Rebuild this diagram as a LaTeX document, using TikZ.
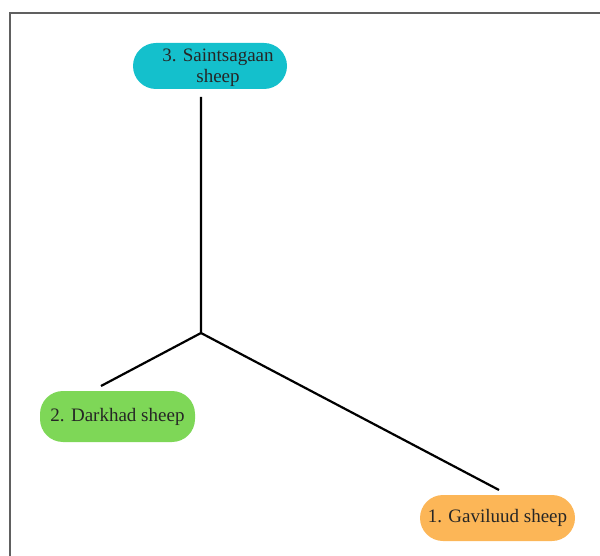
\documentclass[tikz,border=0pt]{standalone}
\usepackage{fontspec}
\setmainfont{Liberation Serif}
\definecolor{teal3}{HTML}{14C0CC}
\definecolor{green2}{HTML}{7ED757}
\definecolor{orange1}{HTML}{FCB657}
\definecolor{framegray}{HTML}{606060}
\begin{document}
\begin{tikzpicture}[x=1pt,y=-1pt,
  pill/.style={draw=none,rounded corners=23pt,minimum height=48pt,inner sep=0pt,align=center,font=\fontsize{19}{21}\selectfont,text=black!85},
  link/.style={line width=2.2pt,black}]
\useasboundingbox (0,0) rectangle (600,556);
\draw[framegray,line width=1.2pt] (10,556) -- (10,13) -- (600,13);
\node[pill,fill=teal3,minimum width=154pt,minimum height=46pt] (n3) at (210,66) {};
\node[align=center,inner sep=0pt,font=\fontsize{19}{21}\selectfont,text=black!85] (n3t) at (218,68) {3. Saintsagaan\\sheep};
\node[pill,fill=green2,minimum width=155pt,minimum height=51pt] (n2) at (117.5,416.5) {2. Darkhad sheep};
\node[pill,fill=orange1,minimum width=155pt,minimum height=46pt] (n1) at (497.5,518) {1. Gaviluud sheep};
\coordinate (j) at (201,333);
\coordinate (t3) at (201,97);
\coordinate (t2) at (101,386);
\coordinate (t1) at (499,490);
\draw[link] (t3) -- (j) -- (t2);
\draw[link] (j) -- (t1);
\end{tikzpicture}
\end{document}
